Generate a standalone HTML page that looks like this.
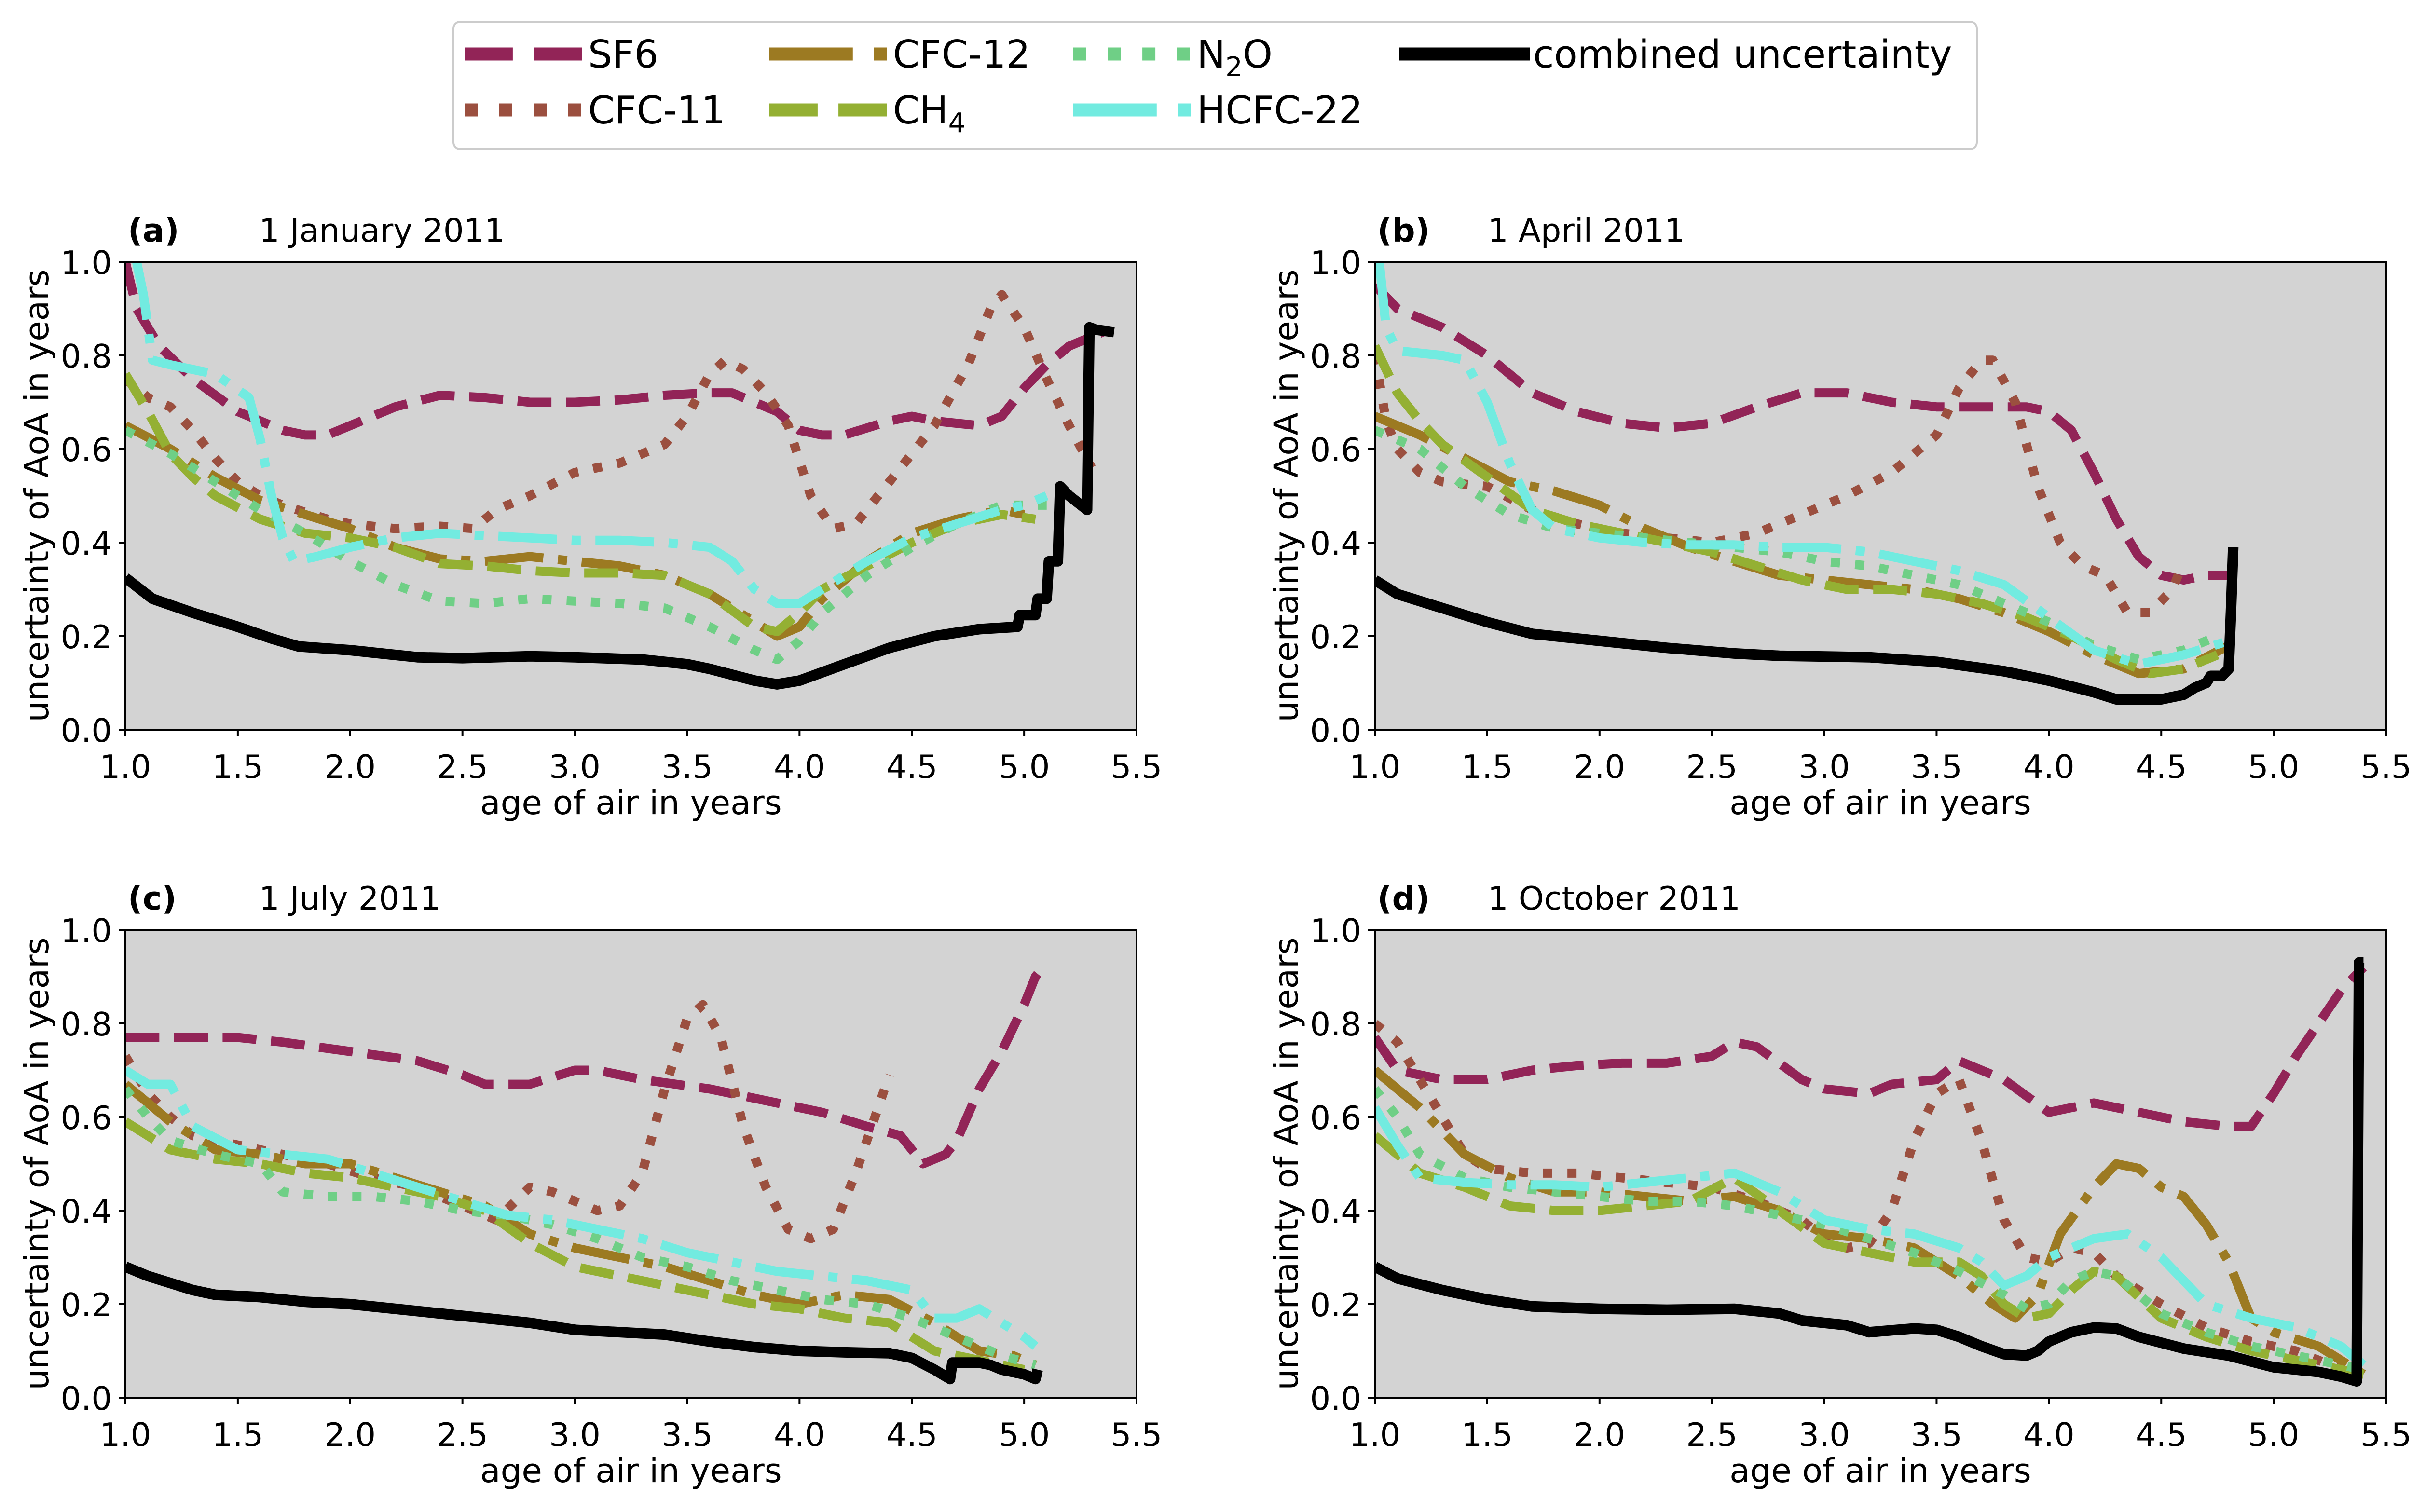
<!DOCTYPE html>
<html><head><meta charset="utf-8">
<style>
html,body{margin:0;padding:0;background:#fff;}
svg{display:block;font-family:"DejaVu Sans","Liberation Sans",sans-serif;}
</style></head>
<body>
<svg id="fig" width="5039" height="3135" viewBox="0 0 5039 3135" xmlns="http://www.w3.org/2000/svg">
<g id="legend">
<rect x="940" y="45" width="3158" height="264" rx="14" fill="#fff" stroke="#ccc" stroke-width="4"/>
</g>
</svg>
<script>
// ---------- data (x = age of air in years, y = uncertainty in years) ----------
const a_SF6=[[1.0,1.0],[1.05,0.9],[1.15,0.82],[1.3,0.75],[1.5,0.68],[1.7,0.64],[1.8,0.63],[1.9,0.63],[2.0,0.65],[2.2,0.69],[2.4,0.715],[2.6,0.71],[2.8,0.70],[3.0,0.70],[3.2,0.705],[3.4,0.715],[3.6,0.72],[3.7,0.72],[3.9,0.68],[4.0,0.64],[4.1,0.63],[4.2,0.63],[4.4,0.66],[4.5,0.67],[4.6,0.66],[4.8,0.65],[4.9,0.67],[5.0,0.73],[5.1,0.78],[5.2,0.82],[5.3,0.84],[5.35,0.85]];
const a_CFC11=[[1.0,0.75],[1.1,0.71],[1.2,0.69],[1.3,0.64],[1.4,0.58],[1.5,0.53],[1.6,0.50],[1.7,0.48],[1.9,0.45],[2.0,0.44],[2.2,0.43],[2.4,0.435],[2.55,0.43],[2.65,0.47],[2.8,0.50],[3.0,0.55],[3.2,0.57],[3.4,0.61],[3.5,0.67],[3.6,0.76],[3.67,0.79],[3.75,0.77],[3.85,0.72],[3.95,0.65],[4.05,0.50],[4.15,0.43],[4.25,0.44],[4.35,0.50],[4.5,0.59],[4.6,0.65],[4.75,0.78],[4.85,0.90],[4.9,0.93],[5.0,0.86],[5.1,0.75],[5.2,0.65],[5.3,0.56]];
const a_CFC12=[[1.0,0.65],[1.2,0.6],[1.4,0.54],[1.6,0.49],[1.8,0.46],[2.0,0.43],[2.2,0.39],[2.4,0.365],[2.6,0.36],[2.8,0.37],[3.0,0.36],[3.2,0.35],[3.4,0.33],[3.6,0.29],[3.8,0.23],[3.9,0.20],[4.0,0.22],[4.1,0.28],[4.3,0.36],[4.5,0.42],[4.7,0.45],[4.9,0.47],[5.0,0.46]];
const a_CH4=[[1.0,0.76],[1.1,0.68],[1.2,0.59],[1.3,0.54],[1.4,0.50],[1.6,0.45],[1.8,0.42],[2.0,0.41],[2.2,0.39],[2.4,0.355],[2.6,0.35],[2.8,0.34],[3.0,0.335],[3.2,0.335],[3.4,0.33],[3.6,0.29],[3.8,0.22],[3.9,0.21],[4.0,0.25],[4.1,0.30],[4.3,0.35],[4.5,0.40],[4.7,0.44],[4.9,0.46],[5.05,0.45]];
const a_N2O=[[1.0,0.64],[1.2,0.59],[1.4,0.53],[1.6,0.47],[1.8,0.42],[2.0,0.36],[2.2,0.31],[2.4,0.275],[2.6,0.27],[2.8,0.28],[3.0,0.275],[3.2,0.27],[3.4,0.26],[3.6,0.22],[3.8,0.17],[3.9,0.15],[4.0,0.19],[4.1,0.25],[4.3,0.33],[4.5,0.39],[4.7,0.44],[4.9,0.48],[5.1,0.48]];
const a_HCFC22=[[1.05,1.0],[1.08,0.93],[1.12,0.79],[1.2,0.78],[1.3,0.77],[1.4,0.76],[1.55,0.71],[1.6,0.62],[1.65,0.50],[1.7,0.41],[1.75,0.36],[1.85,0.37],[2.0,0.39],[2.2,0.41],[2.4,0.42],[2.6,0.415],[2.8,0.41],[3.0,0.405],[3.2,0.405],[3.4,0.40],[3.6,0.39],[3.7,0.36],[3.8,0.30],[3.9,0.27],[4.0,0.27],[4.1,0.30],[4.3,0.36],[4.5,0.41],[4.7,0.44],[4.9,0.47],[5.0,0.48],[5.1,0.50]];
const a_comb=[[1.0,0.325],[1.12,0.28],[1.3,0.25],[1.5,0.22],[1.65,0.195],[1.77,0.178],[2.0,0.17],[2.3,0.155],[2.5,0.153],[2.8,0.157],[3.0,0.155],[3.3,0.15],[3.5,0.14],[3.6,0.13],[3.8,0.105],[3.9,0.097],[4.0,0.105],[4.2,0.14],[4.4,0.175],[4.6,0.2],[4.8,0.215],[4.97,0.22],[4.98,0.245],[5.05,0.245],[5.06,0.28],[5.1,0.28],[5.11,0.36],[5.15,0.36],[5.16,0.52],[5.2,0.50],[5.28,0.47],[5.29,0.86],[5.32,0.855],[5.4,0.85]];

const b_SF6=[[1.0,0.95],[1.1,0.9],[1.3,0.86],[1.5,0.80],[1.7,0.72],[1.9,0.68],[2.1,0.655],[2.3,0.645],[2.5,0.655],[2.7,0.69],[2.9,0.72],[3.1,0.72],[3.3,0.70],[3.5,0.69],[3.7,0.69],[3.9,0.69],[4.0,0.68],[4.1,0.64],[4.2,0.55],[4.3,0.45],[4.4,0.37],[4.5,0.33],[4.6,0.32],[4.7,0.33],[4.8,0.33]];
const b_CFC11=[[1.0,0.80],[1.05,0.66],[1.1,0.60],[1.2,0.55],[1.3,0.53],[1.5,0.52],[1.7,0.47],[1.9,0.44],[2.1,0.42],[2.3,0.41],[2.5,0.40],[2.7,0.42],[2.9,0.46],[3.1,0.50],[3.3,0.55],[3.5,0.63],[3.6,0.73],[3.7,0.79],[3.75,0.79],[3.85,0.70],[3.95,0.52],[4.05,0.40],[4.15,0.35],[4.25,0.33],[4.35,0.25],[4.45,0.25],[4.55,0.30],[4.6,0.36]];
const b_CFC12=[[1.0,0.67],[1.2,0.63],[1.4,0.58],[1.6,0.53],[1.8,0.51],[2.0,0.48],[2.2,0.43],[2.4,0.39],[2.6,0.36],[2.8,0.33],[3.0,0.32],[3.2,0.31],[3.4,0.30],[3.6,0.28],[3.8,0.25],[4.0,0.21],[4.2,0.16],[4.4,0.12],[4.6,0.13],[4.8,0.18]];
const b_CH4=[[1.0,0.82],[1.1,0.72],[1.2,0.66],[1.3,0.61],[1.5,0.54],[1.7,0.47],[1.9,0.44],[2.1,0.42],[2.3,0.40],[2.5,0.38],[2.7,0.35],[2.9,0.32],[3.1,0.30],[3.3,0.30],[3.5,0.29],[3.7,0.27],[3.9,0.24],[4.1,0.20],[4.3,0.15],[4.45,0.12],[4.6,0.13],[4.75,0.16]];
const b_N2O=[[1.0,0.64],[1.2,0.60],[1.4,0.52],[1.6,0.46],[1.8,0.43],[2.0,0.42],[2.2,0.41],[2.4,0.40],[2.6,0.39],[2.8,0.38],[3.0,0.36],[3.2,0.35],[3.4,0.33],[3.6,0.31],[3.8,0.27],[4.0,0.23],[4.2,0.18],[4.4,0.15],[4.6,0.17],[4.75,0.20]];
const b_HCFC22=[[1.02,1.0],[1.05,0.86],[1.1,0.81],[1.3,0.80],[1.4,0.79],[1.5,0.70],[1.6,0.57],[1.7,0.47],[1.8,0.43],[2.0,0.41],[2.2,0.40],[2.4,0.395],[2.6,0.395],[2.8,0.39],[3.0,0.39],[3.2,0.38],[3.4,0.36],[3.6,0.34],[3.8,0.31],[4.0,0.24],[4.2,0.17],[4.4,0.14],[4.6,0.16],[4.8,0.19]];
const b_comb=[[1.0,0.32],[1.1,0.29],[1.3,0.26],[1.5,0.23],[1.7,0.205],[2.0,0.19],[2.3,0.175],[2.6,0.163],[2.8,0.158],[3.2,0.155],[3.5,0.145],[3.8,0.125],[4.0,0.105],[4.2,0.08],[4.3,0.065],[4.5,0.065],[4.6,0.075],[4.65,0.09],[4.7,0.10],[4.72,0.115],[4.77,0.115],[4.78,0.12],[4.8,0.13],[4.81,0.25],[4.82,0.39]];

const c_SF6=[[1.0,0.77],[1.2,0.77],[1.5,0.77],[1.7,0.76],[2.0,0.74],[2.3,0.72],[2.5,0.69],[2.6,0.67],[2.8,0.67],[3.0,0.70],[3.1,0.70],[3.3,0.68],[3.6,0.66],[3.9,0.63],[4.1,0.61],[4.3,0.58],[4.45,0.56],[4.55,0.50],[4.65,0.52],[4.7,0.55],[4.8,0.66],[4.9,0.74],[5.0,0.84],[5.05,0.90],[5.1,0.93]];
const c_CFC11=[[1.0,0.73],[1.1,0.65],[1.2,0.60],[1.3,0.56],[1.5,0.54],[1.7,0.52],[1.9,0.50],[2.1,0.47],[2.3,0.45],[2.5,0.41],[2.65,0.38],[2.8,0.45],[2.9,0.44],[3.0,0.42],[3.1,0.40],[3.2,0.41],[3.3,0.48],[3.4,0.66],[3.5,0.81],[3.57,0.84],[3.65,0.77],[3.75,0.58],[3.85,0.45],[3.95,0.36],[4.05,0.34],[4.15,0.36],[4.25,0.48],[4.35,0.62],[4.4,0.69]];
const c_CFC12=[[1.0,0.67],[1.2,0.59],[1.4,0.53],[1.6,0.52],[1.8,0.50],[2.0,0.50],[2.2,0.47],[2.4,0.44],[2.6,0.41],[2.8,0.35],[3.0,0.32],[3.2,0.30],[3.4,0.28],[3.6,0.25],[3.8,0.22],[4.0,0.20],[4.2,0.22],[4.4,0.21],[4.6,0.16],[4.8,0.10],[4.95,0.09],[5.05,0.07]];
const c_CH4=[[1.0,0.59],[1.2,0.53],[1.4,0.51],[1.6,0.50],[1.8,0.48],[2.0,0.47],[2.2,0.45],[2.4,0.43],[2.6,0.40],[2.8,0.33],[3.0,0.28],[3.2,0.26],[3.4,0.24],[3.6,0.22],[3.8,0.20],[4.0,0.19],[4.2,0.17],[4.4,0.16],[4.6,0.10],[4.8,0.08],[5.0,0.06]];
const c_N2O=[[1.0,0.66],[1.1,0.60],[1.2,0.55],[1.4,0.52],[1.6,0.50],[1.7,0.44],[1.9,0.43],[2.1,0.43],[2.3,0.42],[2.5,0.40],[2.7,0.39],[2.9,0.37],[3.1,0.34],[3.3,0.30],[3.5,0.28],[3.7,0.25],[3.9,0.23],[4.1,0.21],[4.3,0.20],[4.5,0.17],[4.7,0.13],[4.9,0.09],[5.05,0.07]];
const c_HCFC22=[[1.0,0.70],[1.1,0.67],[1.2,0.67],[1.3,0.58],[1.5,0.53],[1.7,0.52],[1.9,0.51],[2.1,0.48],[2.3,0.45],[2.5,0.42],[2.7,0.39],[2.9,0.38],[3.1,0.36],[3.3,0.34],[3.5,0.31],[3.7,0.29],[3.9,0.27],[4.1,0.26],[4.3,0.25],[4.5,0.23],[4.6,0.17],[4.7,0.17],[4.8,0.19],[4.9,0.16],[5.0,0.13],[5.05,0.11]];
const c_comb=[[1.0,0.28],[1.1,0.26],[1.2,0.245],[1.3,0.23],[1.4,0.22],[1.6,0.215],[1.8,0.205],[2.0,0.2],[2.2,0.19],[2.4,0.18],[2.6,0.17],[2.8,0.16],[3.0,0.145],[3.2,0.14],[3.4,0.135],[3.6,0.12],[3.8,0.108],[4.0,0.10],[4.2,0.097],[4.4,0.095],[4.5,0.085],[4.6,0.06],[4.67,0.04],[4.68,0.075],[4.8,0.075],[4.85,0.07],[4.9,0.06],[5.0,0.05],[5.05,0.04],[5.06,0.06]];

const d_SF6=[[1.0,0.77],[1.1,0.70],[1.3,0.68],[1.5,0.68],[1.7,0.70],[1.9,0.71],[2.1,0.715],[2.3,0.715],[2.5,0.73],[2.6,0.76],[2.7,0.75],[2.9,0.68],[3.0,0.66],[3.2,0.65],[3.3,0.67],[3.5,0.68],[3.6,0.72],[3.8,0.68],[4.0,0.61],[4.1,0.62],[4.2,0.63],[4.4,0.61],[4.6,0.59],[4.8,0.58],[4.9,0.58],[5.0,0.65],[5.1,0.73],[5.2,0.80],[5.3,0.87],[5.4,0.92]];
const d_CFC11=[[1.0,0.80],[1.1,0.76],[1.2,0.68],[1.3,0.60],[1.4,0.52],[1.5,0.49],[1.7,0.48],[1.9,0.48],[2.1,0.47],[2.3,0.46],[2.5,0.45],[2.7,0.42],[2.9,0.38],[3.0,0.34],[3.1,0.32],[3.2,0.33],[3.3,0.40],[3.4,0.55],[3.5,0.65],[3.6,0.68],[3.7,0.55],[3.8,0.38],[3.9,0.30],[4.0,0.29],[4.1,0.32],[4.2,0.31],[4.3,0.26],[4.5,0.20],[4.7,0.15],[4.9,0.12],[5.1,0.10],[5.3,0.06],[5.4,0.05]];
const d_CFC12=[[1.0,0.70],[1.2,0.62],[1.4,0.52],[1.6,0.47],[1.8,0.44],[2.0,0.44],[2.2,0.43],[2.4,0.42],[2.6,0.43],[2.8,0.40],[3.0,0.35],[3.2,0.34],[3.4,0.32],[3.6,0.26],[3.75,0.20],[3.85,0.17],[3.95,0.22],[4.05,0.35],[4.2,0.45],[4.3,0.50],[4.4,0.49],[4.5,0.45],[4.6,0.43],[4.7,0.37],[4.8,0.29],[4.9,0.17],[5.0,0.14],[5.2,0.11],[5.4,0.05]];
const d_CH4=[[1.0,0.56],[1.2,0.48],[1.4,0.45],[1.6,0.41],[1.8,0.40],[2.0,0.40],[2.2,0.41],[2.4,0.42],[2.6,0.47],[2.8,0.40],[3.0,0.33],[3.2,0.31],[3.4,0.29],[3.6,0.29],[3.7,0.26],[3.8,0.20],[3.9,0.17],[4.0,0.18],[4.1,0.23],[4.2,0.27],[4.3,0.26],[4.5,0.17],[4.7,0.13],[4.9,0.10],[5.1,0.08],[5.3,0.06],[5.4,0.05]];
const d_N2O=[[1.0,0.66],[1.1,0.60],[1.2,0.52],[1.4,0.47],[1.6,0.45],[1.8,0.44],[2.0,0.43],[2.2,0.42],[2.4,0.42],[2.6,0.41],[2.8,0.39],[3.0,0.37],[3.2,0.34],[3.4,0.31],[3.6,0.27],[3.8,0.22],[3.9,0.19],[4.0,0.20],[4.1,0.25],[4.2,0.27],[4.3,0.26],[4.5,0.18],[4.7,0.14],[4.9,0.11],[5.1,0.09],[5.3,0.07],[5.4,0.06]];
const d_HCFC22=[[1.0,0.62],[1.1,0.54],[1.2,0.47],[1.4,0.46],[1.6,0.455],[1.8,0.455],[2.0,0.45],[2.2,0.46],[2.4,0.47],[2.6,0.48],[2.8,0.44],[3.0,0.38],[3.2,0.36],[3.4,0.35],[3.6,0.32],[3.7,0.29],[3.8,0.24],[3.9,0.26],[4.0,0.30],[4.2,0.34],[4.35,0.35],[4.5,0.30],[4.6,0.25],[4.7,0.20],[4.9,0.17],[5.1,0.15],[5.3,0.11],[5.4,0.07]];
const d_comb=[[1.0,0.28],[1.1,0.255],[1.3,0.23],[1.5,0.21],[1.7,0.195],[2.0,0.19],[2.3,0.188],[2.6,0.19],[2.8,0.18],[2.9,0.165],[3.1,0.155],[3.2,0.14],[3.4,0.148],[3.5,0.145],[3.6,0.13],[3.7,0.11],[3.8,0.093],[3.9,0.09],[3.95,0.10],[4.0,0.12],[4.1,0.14],[4.2,0.15],[4.3,0.148],[4.4,0.13],[4.6,0.105],[4.8,0.09],[5.0,0.065],[5.2,0.055],[5.3,0.045],[5.37,0.035],[5.38,0.93],[5.4,0.93]];

const xTicks=["1.0","1.5","2.0","2.5","3.0","3.5","4.0","4.5","5.0","5.5"];
const yTicks=["0.0","0.2","0.4","0.6","0.8","1.0"];
const panelLetters=["(a)","(b)","(c)","(d)"];
const panelDates=["1 January 2011","1 April 2011","1 July 2011","1 October 2011"];
const seriesNames=["SF6","CFC-11","CFC-12","CH4","N2O","HCFC-22","combined uncertainty"];

const panelData=[
 [a_SF6,a_CFC11,a_CFC12,a_CH4,a_N2O,a_HCFC22,a_comb],
 [b_SF6,b_CFC11,b_CFC12,b_CH4,b_N2O,b_HCFC22,b_comb],
 [c_SF6,c_CFC11,c_CFC12,c_CH4,c_N2O,c_HCFC22,c_comb],
 [d_SF6,d_CFC11,d_CFC12,d_CH4,d_N2O,d_HCFC22,d_comb]];

// ---------- styles ----------
const NS="http://www.w3.org/2000/svg";
const svg=document.getElementById('fig');
const colors=["#922457","#9b4f3f","#9c7a22","#94b033","#6fcf86","#72ebe0","#000000"];
function dash(i,lw){
  if(i===0||i===3) return [3.7*lw,1.6*lw].join(' ');
  if(i===1||i===4) return [1*lw,1.65*lw].join(' ');
  if(i===2||i===5) return [6.4*lw,1.6*lw,1*lw,1.6*lw].join(' ');
  return 'none';
}
const panels=[{x:260,y:543,t:277},{x:2850,y:543,t:234},{x:260,y:1928,t:277},{x:2850,y:1928,t:234}];
const PW=2096, PH=970, XMIN=1.0, XMAX=5.5, YMIN=0, YMAX=1.0;

function mk(tag,attrs,parent){const e=document.createElementNS(NS,tag);for(const k in attrs)e.setAttribute(k,attrs[k]);(parent||svg).appendChild(e);return e;}

panels.forEach((p,pi)=>{
  const sx=v=>p.x+(v-XMIN)/(XMAX-XMIN)*PW;
  const sy=v=>p.y+PH-(v-YMIN)/(YMAX-YMIN)*PH;
  const g=mk('g',{});
  
  
  const bg=mk('rect',{x:p.x,y:p.y,width:PW,height:PH,fill:'#d3d3d3'},g);
  
  
  const clipId='clip'+pi;
  const cp=mk('clipPath',{id:clipId},g);
  mk('rect',{x:p.x,y:p.y,width:PW,height:PH},cp);
  const lines=mk('g',{'clip-path':'url(#'+clipId+')'},g);
  panelData[pi].forEach((ser,si)=>{
    const lw= si===6?22:19;
    const pts=ser.map(d=>sx(d[0]).toFixed(1)+','+sy(d[1]).toFixed(1)).join(' ');
    const pl=mk('polyline',{points:pts,fill:'none',stroke:colors[si],'stroke-width':lw,'stroke-dasharray':dash(si,lw),'stroke-linejoin':'round'},lines);
    
    
  });
  const fr=mk('rect',{x:p.x,y:p.y,width:PW,height:PH,fill:'none',stroke:'#000','stroke-width':4},g);
  
  
  xTicks.forEach(t=>{
    const X=sx(parseFloat(t));
    mk('line',{x1:X,x2:X,y1:p.y+PH,y2:p.y+PH+14,stroke:'#000','stroke-width':4},g);
    const tx=mk('text',{x:X,y:p.y+PH+100,'text-anchor':'middle','font-size':67},g);
    tx.textContent=t;
    
    
  });
  yTicks.forEach(t=>{
    const Y=sy(parseFloat(t));
    mk('line',{x1:p.x-14,x2:p.x,y1:Y,y2:Y,stroke:'#000','stroke-width':4},g);
    const tx=mk('text',{x:p.x-28,y:Y+25,'text-anchor':'end','font-size':67},g);
    tx.textContent=t;
    
    
  });
  const xl=mk('text',{x:p.x+PW/2,y:p.y+PH+175,'text-anchor':'middle','font-size':69},g);
  xl.textContent='age of air in years';
  
  
  const yl=mk('text',{x:0,y:0,'text-anchor':'middle','font-size':69,transform:'translate('+(p.x-160)+','+(p.y+PH/2)+') rotate(-90)'},g);
  yl.textContent='uncertainty of AoA in years';
  
  
  const lt=mk('text',{x:p.x+5,y:p.y-42,'font-size':67,'font-weight':'bold'},g);
  lt.textContent=panelLetters[pi];
  
  
  const dt=mk('text',{x:p.x+p.t,y:p.y-42,'font-size':67},g);
  dt.textContent=panelDates[pi];
  
  
});

// ---------- legend ----------
const leg=document.getElementById('legend');
const legPos=[[963,112],[963,228],[1595,112],[1595,228],[2225,112],[2225,228],[2900,112]];
const legLabels=["SF6","CFC-11","CFC-12","CH<tspan font-size='56' dy='18'>4</tspan>","N<tspan font-size='56' dy='18'>2</tspan><tspan dy='-18'>O</tspan>","HCFC-22","combined uncertainty"];
legPos.forEach((lp,i)=>{
  const len= i===6?272:250;
  const lw=27;
  const ln=mk('line',{x1:lp[0],x2:lp[0]+len,y1:lp[1],y2:lp[1],stroke:colors[i],'stroke-width':lw,'stroke-dasharray':dash(i,lw)},leg);
  
  
  const tx=mk('text',{x:lp[0]+len+6,y:lp[1]+28,'font-size':79},leg);
  tx.innerHTML=legLabels[i];
  
  
});
</script>
</body></html>
